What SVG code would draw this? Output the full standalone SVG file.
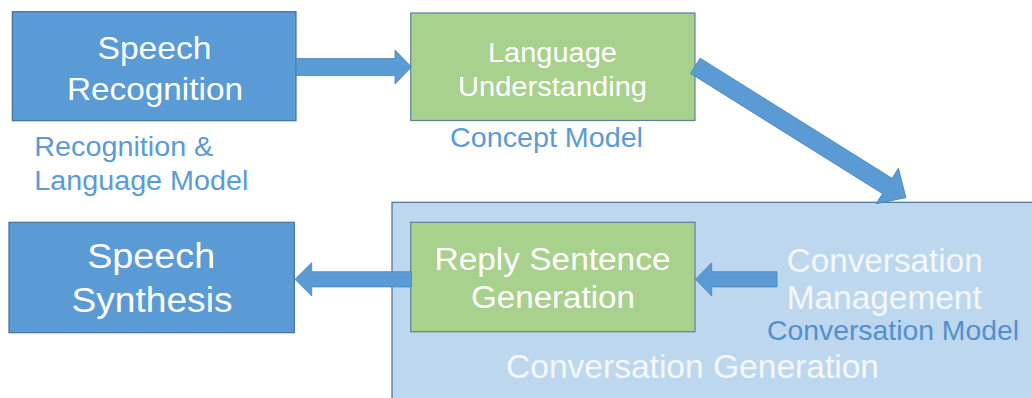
<svg xmlns="http://www.w3.org/2000/svg" width="1032" height="398" viewBox="0 0 1032 398">
<style>
  .blue { fill: #5b9bd5; stroke: #41719c; stroke-width: 1.2; }
  .green { fill: #a9d18e; stroke: #5f7f96; stroke-width: 1.2; }
  .container { fill: #bdd7ee; stroke: #41719c; stroke-width: 1.2; }
  .arrow { fill: #5b9bd5; stroke: #4a84ba; stroke-width: 0.8; }
  text { font-family: "Liberation Sans", Arial, sans-serif; text-anchor: middle; }
  .start { text-anchor: start; }
  .w { fill: #ffffff; }
  .wl { fill: #f4f8fb; }
  .lbl { fill: #5b9bd5; }
  .lbl2 { fill: #5390cc; }
</style>
<rect x="0" y="0" width="1032" height="398" fill="#ffffff"/>

<g id="conversation-generation">
  <rect class="container" x="392" y="202.3" width="700" height="260"/>
  <text class="wl" x="692.5" y="378" font-size="33" textLength="373" lengthAdjust="spacingAndGlyphs">Conversation Generation</text>
</g>

<g id="conversation-management">
  <text class="wl" x="884.7" y="271.7" font-size="33" textLength="196" lengthAdjust="spacingAndGlyphs">Conversation</text>
  <text class="wl" x="884.2" y="309" font-size="33" textLength="195" lengthAdjust="spacingAndGlyphs">Management</text>
  <text class="lbl2" x="893" y="340" font-size="28" textLength="252" lengthAdjust="spacingAndGlyphs">Conversation Model</text>
</g>

<g id="speech-recognition">
  <rect class="blue" x="12.3" y="11.7" width="283.7" height="109"/>
  <text class="w" x="154.5" y="58.5" font-size="32" textLength="114" lengthAdjust="spacingAndGlyphs">Speech</text>
  <text class="w" x="155" y="100" font-size="32" textLength="176" lengthAdjust="spacingAndGlyphs">Recognition</text>
  <text class="lbl start" x="34.3" y="155.5" font-size="27" textLength="179" lengthAdjust="spacingAndGlyphs">Recognition &amp;</text>
  <text class="lbl start" x="34.3" y="189.5" font-size="27" textLength="214" lengthAdjust="spacingAndGlyphs">Language Model</text>
</g>

<g id="language-understanding">
  <rect class="green" x="410.7" y="13" width="284.3" height="107.5"/>
  <text class="w" x="552.5" y="62" font-size="27" textLength="129" lengthAdjust="spacingAndGlyphs">Language</text>
  <text class="w" x="552.5" y="96" font-size="27" textLength="189" lengthAdjust="spacingAndGlyphs">Understanding</text>
  <text class="lbl" x="546.5" y="147" font-size="28" textLength="193" lengthAdjust="spacingAndGlyphs">Concept Model</text>
</g>

<g id="speech-synthesis">
  <rect class="blue" x="9" y="222.3" width="285.3" height="110.4"/>
  <text class="w" x="151.2" y="268" font-size="35" textLength="128" lengthAdjust="spacingAndGlyphs">Speech</text>
  <text class="w" x="152" y="312" font-size="35" textLength="161" lengthAdjust="spacingAndGlyphs">Synthesis</text>
</g>

<g id="reply-sentence-generation">
  <rect class="green" x="410.7" y="222.3" width="284.3" height="109.4"/>
  <text class="w" x="552.5" y="270" font-size="31" textLength="236" lengthAdjust="spacingAndGlyphs">Reply Sentence</text>
  <text class="w" x="553" y="308" font-size="31" textLength="164" lengthAdjust="spacingAndGlyphs">Generation</text>
</g>

<g id="connectors">
  <polygon class="arrow" points="296,58.5 395,58.5 395,50 411.5,67 395,84 395,75.5 296,75.5"/>
  <polygon class="arrow" transform="translate(695.3,65.8) rotate(32.05)" points="0,-9 226.5,-9 226.5,-21 248.5,0 226.5,21 226.5,9 0,9"/>
  <polygon class="arrow" points="777,271.7 711.7,271.7 711.7,262.7 695.5,279.3 711.7,296 711.7,286.9 777,286.9"/>
  <polygon class="arrow" points="411.5,271.7 311.7,271.7 311.7,262.7 295,279.3 311.7,296 311.7,286.9 411.5,286.9"/>
</g>
</svg>
